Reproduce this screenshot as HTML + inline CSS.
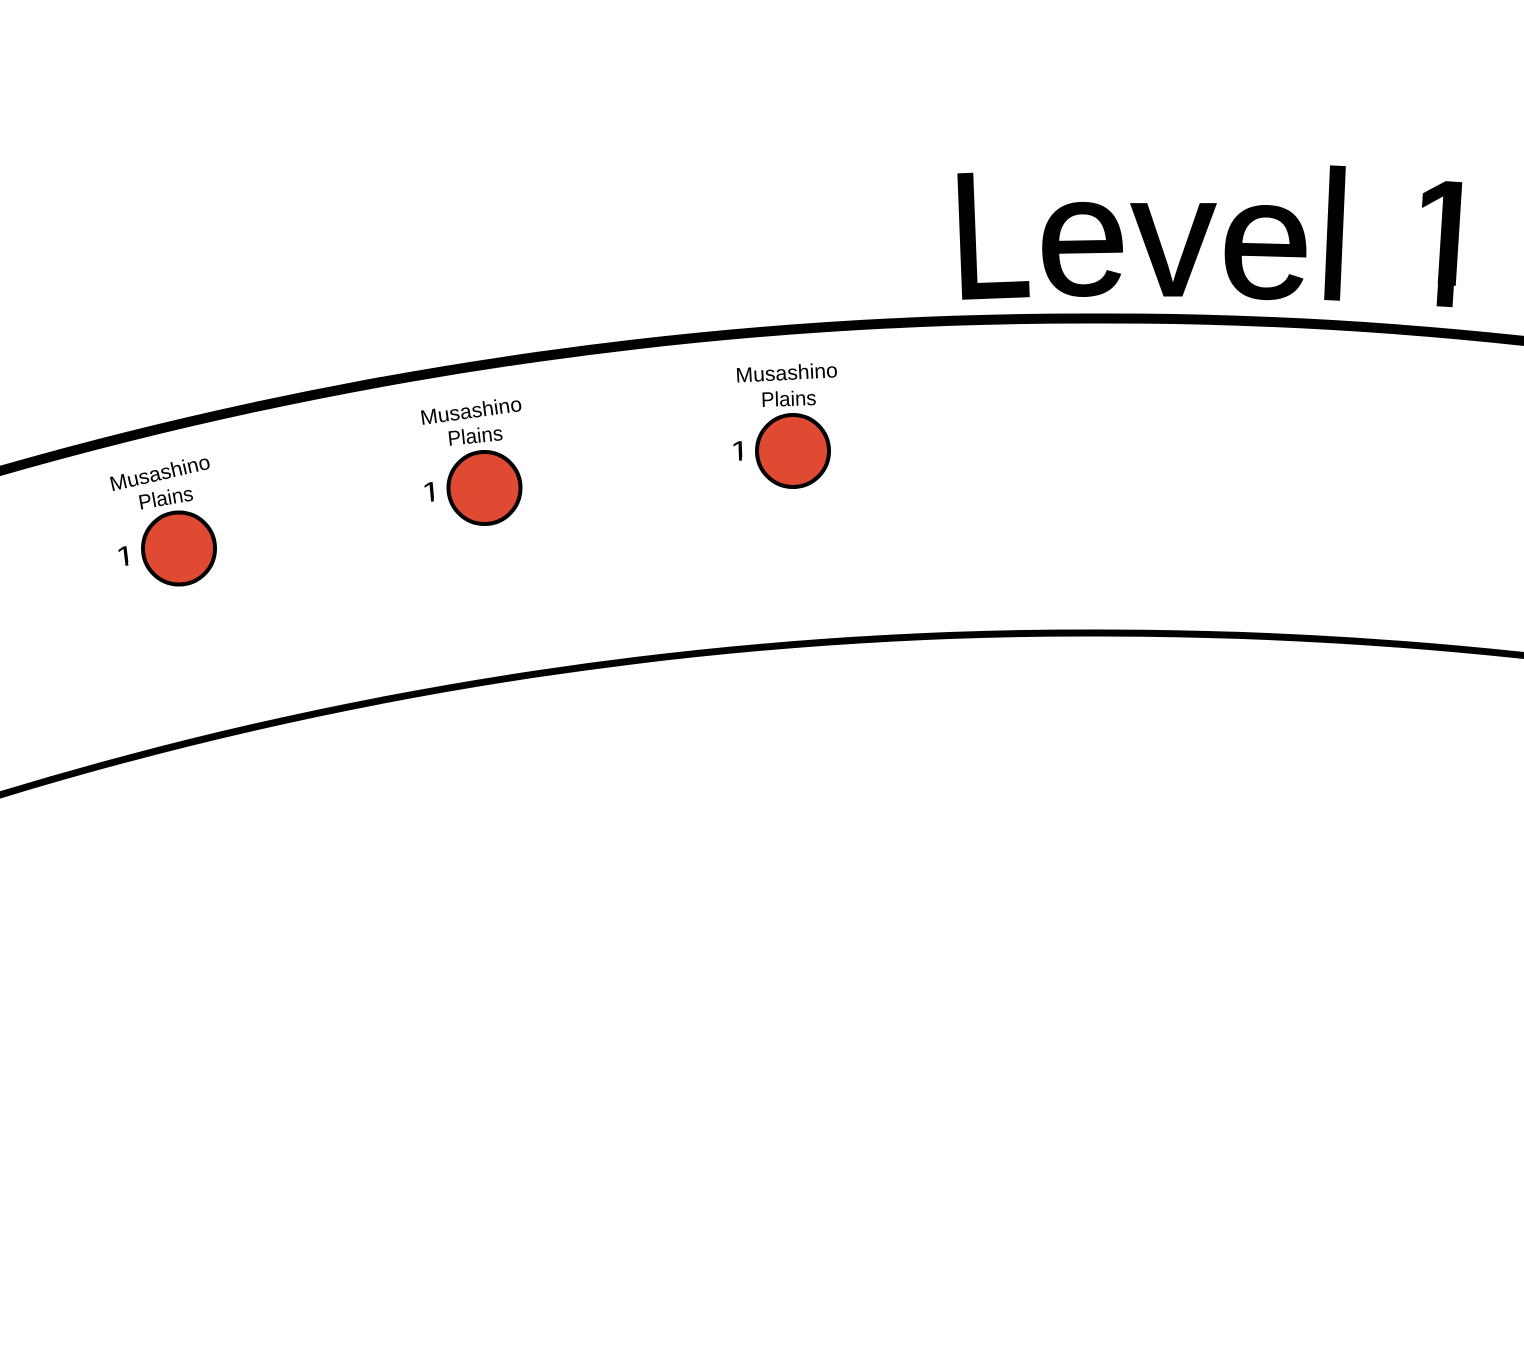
<!DOCTYPE html>
<html><head><meta charset="utf-8"><style>html,body{margin:0;padding:0;background:#fff}svg{display:block}text{font-family:"Liberation Sans",sans-serif;fill:#000}</style></head><body>
<svg width="1524" height="1368" viewBox="0 0 1524 1368" xmlns="http://www.w3.org/2000/svg">
<defs>
<clipPath id="one" clipPathUnits="userSpaceOnUse"><rect x="28" y="-200" width="82" height="178"/><rect x="47" y="-24" width="14.500" height="28"/></clipPath>
<clipPath id="ones" clipPathUnits="userSpaceOnUse"><rect x="21" y="-200" width="89" height="178"/><rect x="47" y="-24" width="14.500" height="28"/></clipPath>
</defs>
<rect width="1524" height="1368" fill="#fff"/>
<path d="M-10 473.800 A3954 3954 0 0 1 1100 318.500 A3908 3908 0 0 1 1534 342" fill="none" stroke="#000" stroke-width="10"/>
<path d="M-10 798 A3735 3735 0 0 1 1100 633 A3995 3995 0 0 1 1534 656.600" fill="none" stroke="#000" stroke-width="7"/>
<g font-size="186">
<text transform="translate(951 299) rotate(-2.200) scale(.8 .97)" stroke="#000" stroke-width="2.500">L</text>
<text transform="translate(1036.500 295.500) rotate(-1) scale(.91 .92)" stroke="#000" stroke-width="1.500">e</text>
<text transform="translate(1130 296) scale(.935 .94)" stroke="#000" stroke-width="1">v</text>
<text transform="translate(1217 296.500) rotate(1.500) scale(.92 .92)" stroke="#000" stroke-width="1.500">e</text>
<text transform="translate(1312 299.500) rotate(2.500) scale(.97 1)">l</text>
<text transform="translate(1385 303) rotate(3.600) scale(1.1 .98)" clip-path="url(#one)">1</text>
</g>
<g font-size="21" text-anchor="middle">
<text transform="translate(161.500 480) rotate(-13) scale(1.01 1)">Musashino</text>
<text transform="translate(167 505) rotate(-10) scale(.97 1)">Plains</text>
<text transform="translate(472 418) rotate(-8) scale(1.01 1)">Musashino</text>
<text transform="translate(476 443) rotate(-6) scale(.97 1)">Plains</text>
<text transform="translate(787 380) rotate(-3) scale(1.01 1)">Musashino</text>
<text transform="translate(789 406) rotate(-2) scale(.97 1)">Plains</text>
</g>
<g font-size="186">
<text transform="translate(116.200 567) rotate(-7) scale(.2 .152)" clip-path="url(#ones)">1</text>
<text transform="translate(421.700 502.500) rotate(-5) scale(.2 .152)" clip-path="url(#ones)">1</text>
<text transform="translate(729.700 461) rotate(-2) scale(.2 .152)" clip-path="url(#ones)">1</text>
</g>
<g fill="#e04a33" stroke="#000" stroke-width="4">
<circle cx="179" cy="548.500" r="36"/>
<circle cx="484.500" cy="488" r="36"/>
<circle cx="793" cy="451" r="36"/>
</g>
</svg>
</body></html>
